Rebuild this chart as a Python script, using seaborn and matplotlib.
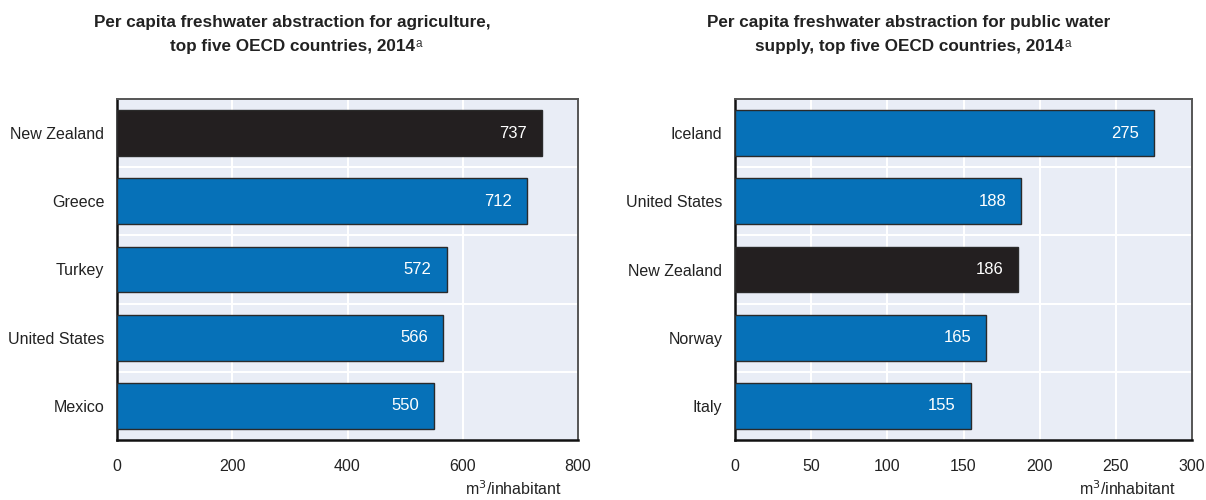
import matplotlib
matplotlib.use("Agg")
import matplotlib.pyplot as plt
import seaborn as sns
import pandas as pd

sns.set_theme(style="white")
plt.rcParams["font.family"] = ["Liberation Sans Narrow", "Liberation Sans", "DejaVu Sans"]

# Agriculture panel
agri_countries = ["New Zealand", "Greece", "Turkey", "United States", "Mexico"]
agri_values = [737, 712, 572, 566, 550]

# Public water supply panel
pws_countries = ["Iceland", "United States", "New Zealand", "Norway", "Italy"]
pws_values = [275, 188, 186, 165, 155]

agri_ticks = [0, 200, 400, 600, 800]
pws_ticks = [0, 50, 100, 150, 200, 250, 300]

BLUE = "#0671B8"
DARK = "#231F20"
BG = "#E9EDF6"
HIGHLIGHT = "New Zealand"

fig = plt.figure(figsize=(12.06, 5.0), dpi=100)
ax1 = fig.add_axes([117 / 1206, 1 - 440 / 500, 461 / 1206, 341 / 500])
ax2 = fig.add_axes([735 / 1206, 1 - 440 / 500, 457 / 1206, 341 / 500])


def draw_panel(ax, countries, values, ticks):
    df = pd.DataFrame({"country": countries, "value": values})
    pal = {c: (DARK if c == HIGHLIGHT else BLUE) for c in countries}
    sns.barplot(data=df, y="country", x="value", hue="country", palette=pal,
                legend=False, orient="h", width=0.67, saturation=1,
                edgecolor="#2a2a2a", linewidth=1.0, ax=ax, zorder=3)
    ax.set_facecolor(BG)
    ax.set_xlim(ticks[0], ticks[-1])
    ax.set_ylim(len(countries) - 0.5, -0.5)
    ax.set_xticks(ticks)
    ax.set_xticklabels([str(t) for t in ticks])
    for t in ticks[1:-1]:
        ax.axvline(t, color="white", lw=1.5, zorder=1)
    for i in range(len(countries) - 1):
        ax.axhline(i + 0.5, color="white", lw=1.5, zorder=1)
    ax.set_yticks(range(len(countries)))
    ax.set_yticklabels(countries)
    ax.set_yticks([i + 0.5 for i in range(len(countries) - 1)], minor=True)
    ax.tick_params(axis="y", which="major", length=0, pad=9, labelsize=11.5, labelcolor="#222222")
    ax.tick_params(axis="y", which="minor", direction="in", length=5, width=1.5, color="#111111")
    ax.tick_params(axis="x", which="major", direction="in", length=5, width=1.5,
                   color="#111111", pad=14, labelsize=11.5, labelcolor="#222222")
    ax.set_ylabel("")
    ax.set_xlabel("m$^3$/inhabitant", fontsize=11.5, color="#222222")
    ax.xaxis.set_label_coords(0.965, -0.115)
    ax.xaxis.label.set_horizontalalignment("right")
    for side in ("left", "bottom"):
        ax.spines[side].set_color("#111111")
        ax.spines[side].set_linewidth(1.8)
    for side in ("top", "right"):
        ax.spines[side].set_color("#555555")
        ax.spines[side].set_linewidth(1.4)
    for i, v in enumerate(values):
        ax.annotate(str(v), xy=(v, i), xytext=(-11, 0), textcoords="offset points",
                    ha="right", va="center", color="white", fontsize=12, zorder=5)


draw_panel(ax1, agri_countries, agri_values, agri_ticks)
draw_panel(ax2, pws_countries, pws_values, pws_ticks)

title_kw = dict(fontsize=12.3, fontweight="bold", color="#222222", va="center")
renderer = fig.canvas.get_renderer()


def title_block(xc, line1, line2):
    fig.text(xc / 1206, 1 - 22 / 500, line1, ha="center", **title_kw)
    t2 = fig.text(xc / 1206, 1 - 47 / 500, line2, ha="center", **title_kw)
    bb = t2.get_window_extent(renderer=renderer)
    fig.text((bb.x1 + 1) / 1206, 1 - 44 / 500, "a", ha="left", va="center",
             fontsize=8.5, color="#333333")


title_block(292, "Per capita freshwater abstraction for agriculture,",
            "top five OECD countries, 2014")
title_block(909, "Per capita freshwater abstraction for public water",
            "supply, top five OECD countries, 2014")

fig.savefig("out.png", dpi=100, facecolor="white")
